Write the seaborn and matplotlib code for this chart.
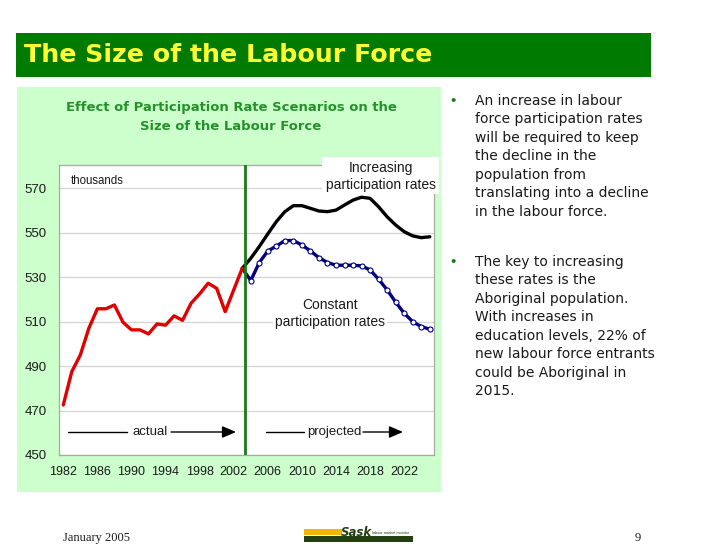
import matplotlib
matplotlib.use('Agg')
import matplotlib.pyplot as plt
import seaborn as sns
import pandas as pd
import numpy as np
from matplotlib.patches import Rectangle
from matplotlib.lines import Line2D

W, H = 702, 558

# ---------------- data ----------------
actual_years = list(range(1982, 2004))
actual_values = [472.5, 487.5, 495.0, 507.0, 515.8, 515.8, 517.5, 509.8, 506.3, 506.3,
                 504.5, 509.0, 508.4, 512.6, 510.6, 518.3, 522.5, 527.3, 525.0, 514.5,
                 524.3, 534.0]
proj_years = list(range(2003, 2026))
increasing_values = [534.0, 538.5, 543.8, 549.5, 555.0, 559.5, 562.2, 562.2, 561.0, 559.8,
                     559.5, 560.2, 562.5, 564.7, 566.0, 565.5, 561.7, 557.2, 553.5, 550.5,
                     548.6, 547.8, 548.2]
constant_values = [534.0, 528.5, 536.6, 541.8, 544.0, 546.5, 546.5, 544.5, 541.8, 538.8,
                   536.6, 535.4, 535.4, 535.4, 535.1, 533.3, 529.1, 524.3, 518.8, 513.8,
                   510.0, 507.8, 506.6]
y_ticks = [450, 470, 490, 510, 530, 550, 570]
x_ticks = list(range(1982, 2023, 4))
split_year = 2003.3

slide_title = "The Size of the Labour Force"
chart_title = ["Effect of Participation Rate Scenarios on the", "Size of the Labour Force"]
bullet1 = ("An increase in labour\nforce participation rates\nwill be required to keep\n"
           "the decline in the\npopulation from\ntranslating into a decline\nin the labour force.")
bullet2 = ("The key to increasing\nthese rates is the\nAboriginal population.\nWith increases in\n"
           "education levels, 22% of\nnew labour force entrants\ncould be Aboriginal in\n2015.")

# ---------------- style ----------------
sns.set_theme(style='white')
plt.rcParams['font.family'] = ['Liberation Sans', 'DejaVu Sans']

fig = plt.figure(figsize=(W / 100, H / 100), dpi=100)
fig.patch.set_facecolor('white')
renderer = fig.canvas.get_renderer()


def fx(x):
    return x / W


def fy(y):
    return 1 - y / H


def rect(x0, y0, x1, y1, color, z=-5):
    fig.add_artist(Rectangle((fx(x0), fy(y1)), (x1 - x0) / W, (y1 - y0) / H,
                             transform=fig.transFigure, facecolor=color,
                             edgecolor='none', zorder=z))


def fit(t, width_px):
    bb = t.get_window_extent(renderer)
    t.set_fontsize(t.get_fontsize() * width_px / bb.width)
    return t


# background panels
rect(16, 33, 651, 77, '#007A00')
rect(17, 87, 441, 492, '#CCFFCC')

# slide title
t = fig.text(fx(24), fy(55), slide_title, color='#FFFF33', fontsize=16, weight='bold',
             family=['DejaVu Sans'], ha='left', va='center')
fit(t, 408)

# chart title
for i, line in enumerate(chart_title):
    t = fig.text(fx(231), fy(108 + 18 * i), line, color='#23902A', fontsize=9, weight='bold',
                 family=['DejaVu Sans'], ha='center', va='center')
    if i == 0:
        fit(t, 328)
        fs_title = t.get_fontsize()
    else:
        t.set_fontsize(fs_title)

# ---------------- axes ----------------
ax = fig.add_axes([fx(59), fy(455), (434 - 59) / W, (455 - 165) / H])
ax.set_facecolor('white')

df_actual = pd.DataFrame({'year': actual_years, 'value': actual_values})
df_inc = pd.DataFrame({'year': proj_years, 'value': increasing_values})
df_con = pd.DataFrame({'year': proj_years, 'value': constant_values})

sns.lineplot(data=df_inc, x='year', y='value', color='black', lw=2.4, ax=ax, zorder=3)
sns.lineplot(data=df_con, x='year', y='value', color='#000080', lw=2.4, ax=ax, zorder=4,
             marker='o', markersize=3.6, markerfacecolor='white', markeredgecolor='#000080',
             markeredgewidth=0.8, markevery=list(range(1, len(proj_years))))
sns.lineplot(data=df_actual, x='year', y='value', color='#E00000', lw=2.4, ax=ax, zorder=5)
ax.axvline(split_year, color='#187A18', lw=2.0, zorder=6)

ax.set_xlim(1981.5, 2025.5)
ax.set_ylim(450, 580.5)
ax.set_xlabel('')
ax.set_ylabel('')
ax.set_yticks(y_ticks)
ax.set_xticks(x_ticks)
ax.set_xticklabels([str(v) for v in x_ticks])
ax.set_xticks(np.arange(1981.5, 2026, 1), minor=True)
ax.yaxis.grid(True, color='#D4D4D4', lw=0.9)
ax.set_axisbelow(True)
for s in ax.spines.values():
    s.set_color('#A8A8A8')
    s.set_linewidth(0.9)
ax.tick_params(axis='y', length=4, width=0.8, color='#A8A8A8', pad=5,
               labelsize=9.5, labelcolor='#1A1A1A')
ax.tick_params(axis='x', which='major', length=0, pad=8, labelsize=9, labelcolor='#1A1A1A')
ax.tick_params(axis='x', which='minor', length=3, width=0.8, color='#A8A8A8', direction='out')
for lab in ax.get_xticklabels():
    lab.set_family(['Liberation Sans Narrow', 'Liberation Sans'])

# ---------------- annotations ----------------
fig.text(fx(71), fy(181), 'thousands', fontsize=8.3, color='#1A1A1A', ha='left', va='center')
rect(322, 157, 439, 194, 'white', z=7)
fig.text(fx(381), fy(176.5), 'Increasing\nparticipation rates', fontsize=10, color='#1A1A1A',
         ha='center', va='center', multialignment='center', zorder=8)
fig.text(fx(330), fy(313.5), 'Constant\nparticipation rates', fontsize=10, color='#1A1A1A',
         ha='center', va='center', multialignment='center', zorder=8,
         bbox=dict(facecolor='white', edgecolor='none', pad=1.5))

# actual / projected arrows
ya = 432
for (x0, x1) in [(68, 127), (266, 304)]:
    fig.add_artist(Line2D([fx(x0), fx(x1)], [fy(ya), fy(ya)], transform=fig.transFigure,
                          color='black', lw=1.0, zorder=8))
for (x0, x1) in [(171, 236), (363, 403)]:
    ax.annotate('', xy=(fx(x1), fy(ya)), xytext=(fx(x0), fy(ya)), xycoords='figure fraction',
                textcoords='figure fraction', annotation_clip=False,
                arrowprops=dict(arrowstyle='-|>,head_length=0.7,head_width=0.3',
                                color='black', lw=1.0, shrinkA=0, shrinkB=0), zorder=8)
fig.text(fx(150), fy(ya), 'actual', fontsize=9.5, color='#1A1A1A', ha='center', va='center')
fig.text(fx(334), fy(ya), 'projected', fontsize=9.5, color='#1A1A1A', ha='center', va='center')

# ---------------- bullets ----------------
tb1 = fig.text(fx(475), fy(94), bullet1, fontsize=10, color='#1A1A1A', ha='left', va='top',
               family=['DejaVu Sans'], linespacing=1.4)
fit(tb1, 173)
fsb = tb1.get_fontsize()
tb1.set_linespacing(19.4 / (fsb * 100 / 72))
tb2 = fig.text(fx(475), fy(255), bullet2, fontsize=fsb, color='#1A1A1A', ha='left', va='top',
               family=['DejaVu Sans'], linespacing=19.4 / (fsb * 100 / 72))
for yb in (101, 262):
    fig.text(fx(453), fy(yb), '\u2022', fontsize=11, color='#1E7A1E', ha='center', va='center')

# ---------------- footer ----------------
fig.text(fx(63), fy(538), 'January 2005', fontsize=9, family=['Liberation Serif'],
         color='#1A1A1A', ha='left', va='center')
fig.text(fx(638), fy(538), '9', fontsize=9, family=['Liberation Serif'],
         color='#1A1A1A', ha='center', va='center')
rect(304, 529, 342, 535, '#F2B705', z=1)
rect(304, 536, 413, 542, '#243F12', z=1)
fig.text(fx(341), fy(532), 'Sask', fontsize=8.5, weight='bold', style='italic',
         color='#243F12', ha='left', va='center', family=['DejaVu Sans'])
fig.text(fx(372), fy(533), 'labour market monitor', fontsize=2.8, color='#243F12',
         ha='left', va='center')

fig.savefig('out.png', dpi=100, facecolor='white')
